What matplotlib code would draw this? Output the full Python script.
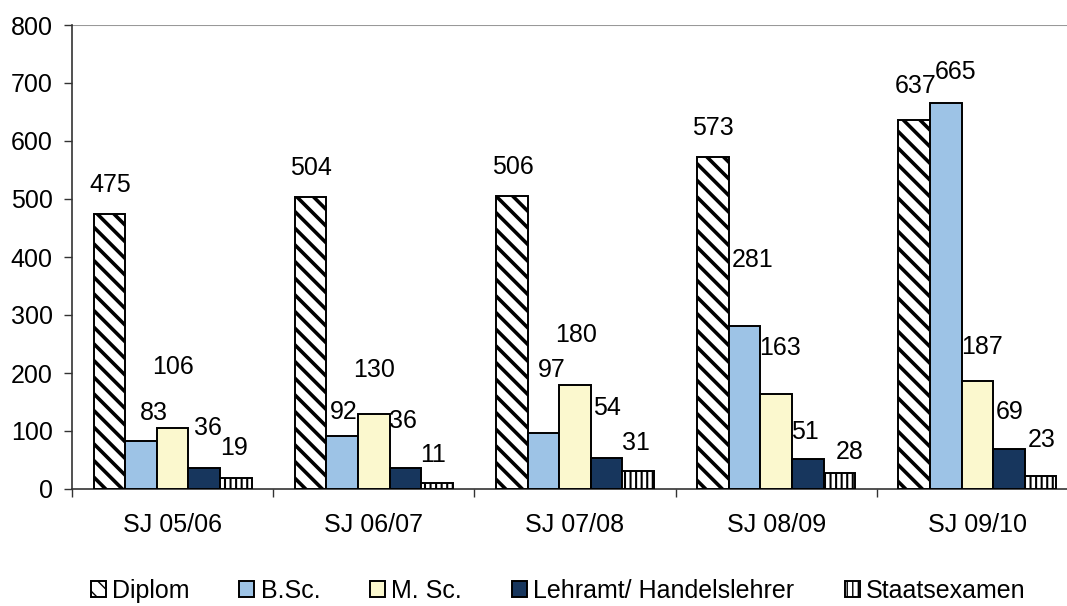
import numpy as np
import matplotlib
matplotlib.use('Agg')
import matplotlib.pyplot as plt

plt.rcParams['font.family'] = ['Liberation Sans', 'DejaVu Sans']

# data
years = ['SJ 05/06', 'SJ 06/07', 'SJ 07/08', 'SJ 08/09', 'SJ 09/10']
series = ['Diplom', 'B.Sc.', 'M. Sc.', 'Lehramt/ Handelslehrer', 'Staatsexamen']
diplom = [475, 504, 506, 573, 637]
bsc = [83, 92, 97, 281, 665]
msc = [106, 130, 180, 163, 187]
lehramt = [36, 36, 54, 51, 69]
staats = [19, 11, 31, 28, 23]

# where the value labels sit (Excel labels were dragged around by hand)
lab_y = [[524, 553, 555, 623, 695],
         [131, 133, 205, 395, 719],
         [210, 205, 266, 243, 245],
         [105, 117, 140, 98, 133],
         [71, 59, 79, 64, 84]]
lab_dx = [[1, 0, 1, 0, 1],
          [13, 2, 8, 8, 10],
          [0, 0, 1, 4, 5],
          [4, -2, 0, -3, 1],
          [-2, -4, -2, 10, 1]]  # pixels

colors = ['white', '#9DC3E6', '#FBF8CE', '#17365D', 'white']
hatches = ['\\\\', None, None, None, '|||']
hatch_lw = [2.6, 1, 1, 1, 1.5]
fs = 18

fig = plt.figure(figsize=(10.67, 6.06), dpi=100)
ax = fig.add_axes([72/1067, 1-489/606, 1006/1067, 464/606])

x = np.arange(len(years))
w = 0.157
px = 1006/5  # pixels per group
allvals = [diplom, bsc, msc, lehramt, staats]
handles = []
for j, vals in enumerate(allvals):
    with plt.rc_context({'hatch.linewidth': hatch_lw[j], 'hatch.color': 'black'}):
        b = ax.bar(x + (j-2)*w, vals, w, color=colors[j], edgecolor='black',
                   linewidth=1.4, hatch=hatches[j], label=series[j], zorder=3)
    for p in b.patches:
        if hasattr(p, 'set_hatch_linewidth'):
            p.set_hatch_linewidth(hatch_lw[j])
    handles.append(b)
    for i, v in enumerate(vals):
        ax.text(x[i] + (j-2)*w + lab_dx[j][i]/px, lab_y[j][i], str(v),
                ha='center', va='center', fontsize=fs, zorder=4)

ax.set_xlim(-0.5, 4.5)
ax.set_ylim(0, 800)
ax.set_yticks(range(0, 801, 100))
ax.tick_params(axis='y', labelsize=fs, length=6, width=1, pad=8, color='#333333')
ax.set_xticks(x)
ax.set_xticklabels(years)
ax.tick_params(axis='x', which='major', length=0, labelsize=fs, pad=17)
ax.set_xticks(np.arange(-0.5, 4.6, 1), minor=True)
ax.tick_params(axis='x', which='minor', length=6, width=1, color='#333333')

ax.axhline(800, color='#999999', lw=1.5, zorder=1)
for s in ['top', 'right']:
    ax.spines[s].set_visible(False)
ax.spines['left'].set_color('#333333')
ax.spines['bottom'].set_color('#333333')
ax.spines['left'].set_linewidth(1.2)
ax.spines['bottom'].set_linewidth(1.2)

fig.legend(handles=handles, labels=series, loc='center', ncol=5,
           bbox_to_anchor=(558/1067, 1-591/606), frameon=False, fontsize=fs,
           handlelength=0.6, handleheight=0.6, handletextpad=0.25,
           columnspacing=2.0, borderpad=0)

fig.savefig('out.png', dpi=100)
